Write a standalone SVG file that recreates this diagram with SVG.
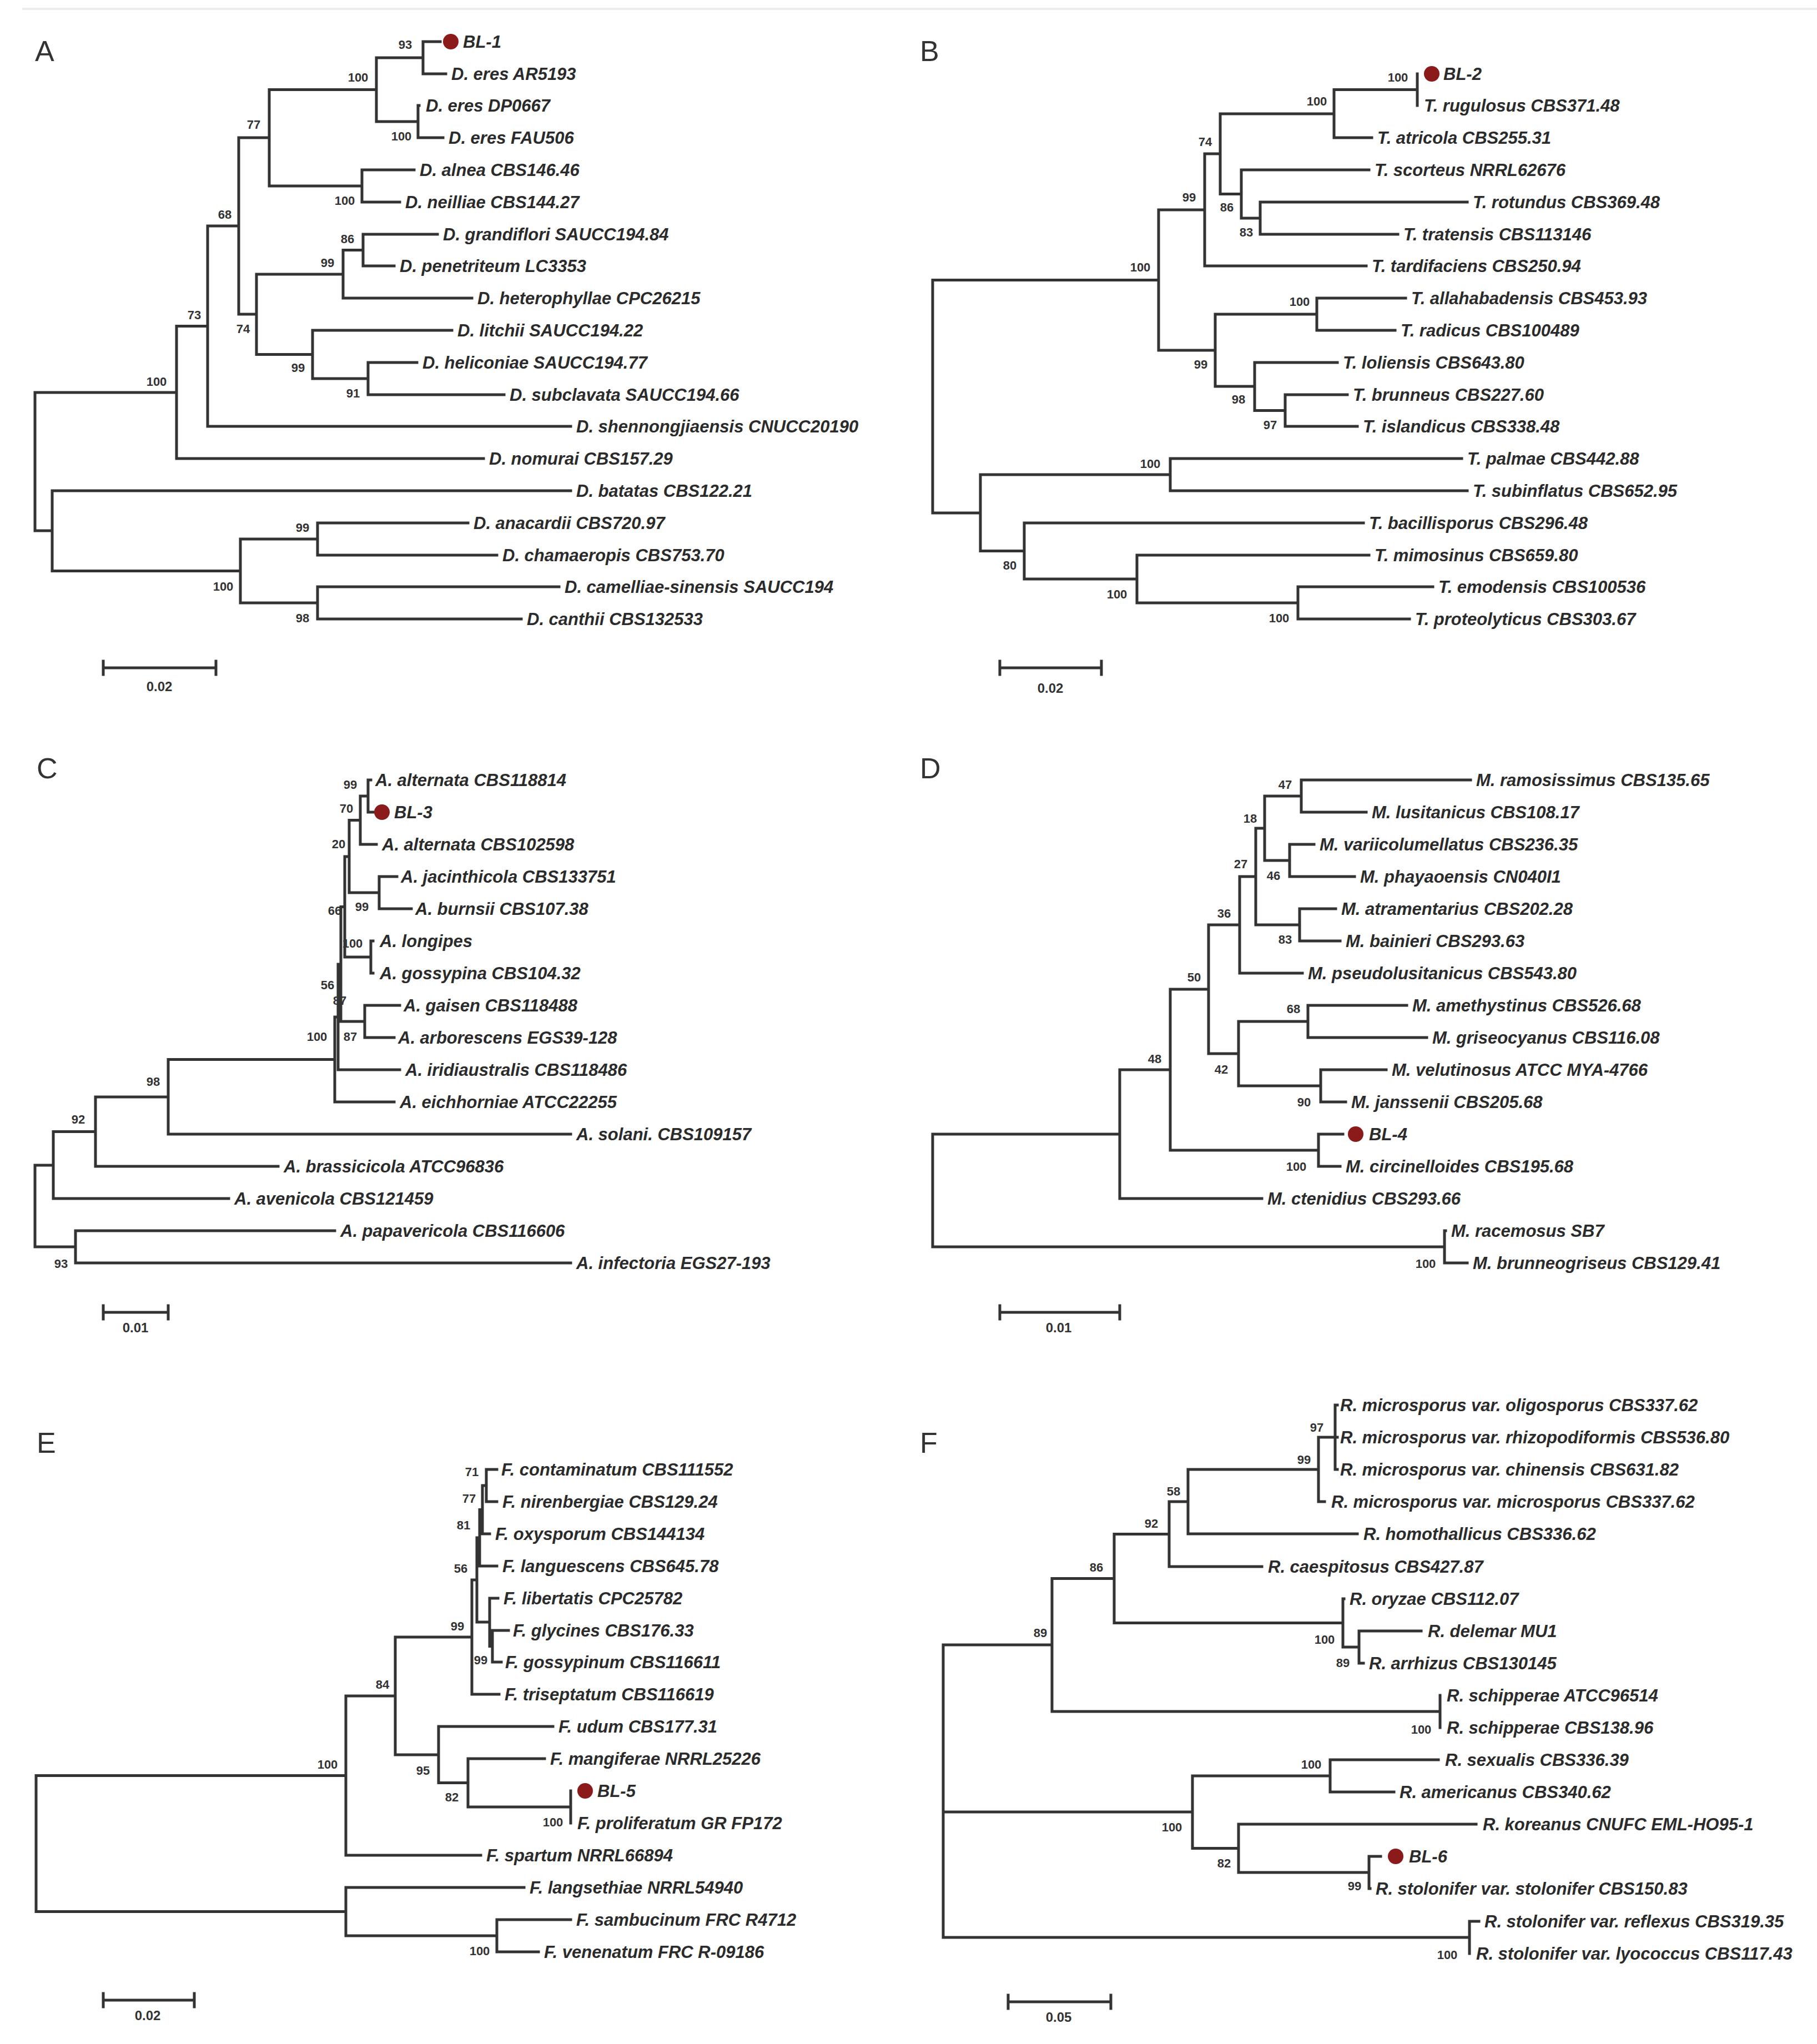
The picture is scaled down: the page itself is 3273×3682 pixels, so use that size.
<svg xmlns="http://www.w3.org/2000/svg" width="3273" height="3682" viewBox="0 0 3273 3682">
<style>
.br{fill:none;stroke:#333;stroke-width:5;stroke-linecap:square}
.lf{font-family:"Liberation Sans",Arial,sans-serif;font-style:italic;font-weight:bold;font-size:31px;fill:#2b2b2b}
.bs{font-family:"Liberation Sans",Arial,sans-serif;font-weight:bold;font-size:22px;fill:#333;text-anchor:middle}
.pl{font-family:"Liberation Sans",Arial,sans-serif;font-size:52px;fill:#333}
.sb{font-family:"Liberation Sans",Arial,sans-serif;font-weight:bold;font-size:24px;fill:#333;text-anchor:middle}
.dot{fill:#8b1a1a}
</style>
<rect width="3273" height="3682" fill="#fff"/>
<line x1="40" y1="16" x2="3273" y2="16" stroke="#ececec" stroke-width="4"/>

<g id="panel-labels">
<text class="pl" x="63" y="110">A</text>
<text class="pl" x="1657" y="110">B</text>
<text class="pl" x="66" y="1402">C</text>
<text class="pl" x="1657" y="1402">D</text>
<text class="pl" x="66" y="2617">E</text>
<text class="pl" x="1657" y="2617">F</text>
</g>

<g id="connectors">
<path id="A-branches" class="br" d="M63,707V956M63,707H318M63,956H94
M318,587.5V826M318,587.5H374M318,826H871
M374,407V768M374,407H430M374,768H1028
M430,248V566M430,248H485M430,566H462
M485,161.5V335M485,161.5H678M485,335H652
M678,104V219M678,104H762M678,219H753
M762,75V133M762,75H793M762,133H803
M753,190V248M753,190H755M753,248H798
M652,306V364M652,306H746M652,364H720
M462,494V638.5M462,494H618M462,638.5H563
M618,450.5V537M618,450.5H654M618,537H850
M654,422V479M654,422H788M654,479H710
M563,595V682M563,595H814M563,682H663
M663,653V711M663,653H751M663,711H908
M94,884V1028.5M94,884H1028M94,1028.5H433
M433,971V1086M433,971H572M433,1086H572
M572,942V1000M572,942H843M572,1000H895
M572,1057V1115M572,1057H1007M572,1115H939"/>
<path id="A-scale" class="br" d="M186,1191V1215M186,1203H389M389,1191V1215"/>

<path id="B-branches" class="br" d="M1680,504.5V924M1680,504.5H2087M1680,924H1766
M2087,378V631M2087,378H2170M2087,631H2189
M2170,277V479M2170,277H2198M2170,479H2461
M2198,205V349.5M2198,205H2403M2198,349.5H2236
M2403,161.5V248M2403,161.5H2553M2403,248H2471
M2553,133V190
M2236,306V393M2236,306H2466M2236,393H2270
M2270,364V422M2270,364H2643M2270,422H2518
M2189,566V696M2189,566H2372M2189,696H2260
M2372,537V595M2372,537H2532M2372,595H2513
M2260,653V739.5M2260,653H2409M2260,739.5H2315
M2315,711V768M2315,711H2427M2315,768H2445
M1766,855V992.5M1766,855H2108M1766,992.5H1845
M2108,826V884M2108,826H2633M2108,884H2643
M1845,942V1043M1845,942H2456M1845,1043H2048
M2048,1000V1086M2048,1000H2466M2048,1086H2338
M2338,1057V1115M2338,1057H2581M2338,1115H2539"/>
<path id="B-scale" class="br" d="M1801,1191V1215M1801,1203H1984M1984,1191V1215"/>

<path id="C-branches" class="br" d="M63,2099V2246M63,2099H96M63,2246H136
M96,2038.5V2159M96,2038.5H172M96,2159H412
M172,1976V2101M172,1976H303M172,2101H501
M303,1908.5V2043M303,1908.5H603M303,2043H1028
M603,1832V1985M603,1832H609M603,1985H710
M609,1737V1927M609,1737H614M609,1927H720
M614,1633.5V1840M614,1633.5H621M614,1840H657
M657,1811V1869M657,1811H720M657,1869H710
M621,1543V1724M621,1543H629M621,1724H668
M668,1695V1753M668,1695H672M668,1753H672
M629,1477.5V1608M629,1477.5H649M629,1608H683
M683,1579V1637M683,1579H715M683,1637H741
M649,1434V1521M649,1434H663M649,1521H678
M663,1405V1463M663,1405H668M663,1463H672
M136,2217V2275M136,2217H603M136,2275H1028"/>
<path id="C-scale" class="br" d="M186,2352V2376M186,2364H303M303,2352V2376"/>

<path id="D-branches" class="br" d="M1680,2043V2246M1680,2043H2017M1680,2246H2602
M2017,1927V2159M2017,1927H2108M2017,2159H2273
M2108,1782V2072M2108,1782H2177M2108,2072H2375
M2177,1666V1898M2177,1666H2233M2177,1898H2231
M2233,1579V1753M2233,1579H2262M2233,1753H2346
M2262,1492V1666M2262,1492H2278M2262,1666H2341
M2278,1434V1550M2278,1434H2344M2278,1550H2323
M2344,1405V1463M2344,1405H2649M2344,1463H2461
M2323,1521V1579M2323,1521H2367M2323,1579H2440
M2341,1637V1695M2341,1637H2406M2341,1695H2414
M2231,1840V1956M2231,1840H2356M2231,1956H2379
M2356,1811V1869M2356,1811H2534M2356,1869H2570
M2379,1927V1985M2379,1927H2497M2379,1985H2424
M2375,2043V2101M2375,2043H2419M2375,2101H2414
M2602,2217V2275M2602,2217H2604M2602,2275H2643"/>
<path id="D-scale" class="br" d="M1801,2352V2376M1801,2364H2017M2017,2352V2376"/>

<path id="E-branches" class="br" d="M65,3198.5V3443.5M65,3198.5H623M65,3443.5H623
M623,3055V3342M623,3055H712M623,3342H866
M712,2949V3161M712,2949H850M712,3161H790
M850,2846V3052M850,2846H859M850,3052H899
M859,2770V2922M859,2770H864M859,2922H882
M864,2719.5V2821M864,2719.5H869M864,2821H895
M869,2676V2763M869,2676H876M869,2763H882
M876,2647V2705M876,2647H895M876,2705H895
M882,2879V2965.5M882,2879H897M882,2965.5H887
M887,2937V2994M887,2937H916M887,2994H903
M790,3110V3211.5M790,3110H996M790,3211.5H843
M843,3168V3255M843,3168H981M843,3255H1028
M1028,3226V3284
M623,3400V3487M623,3400H944M623,3487H895
M895,3458V3516M895,3458H1028M895,3516H970"/>
<path id="E-scale" class="br" d="M186,3591V3615M186,3603H350M350,3591V3615"/>

<path id="F-branches" class="br" d="M1699,2963V3490M1699,2963H1895M1699,3264H2148M1699,3490H2647
M1895,2843.5V3083M1895,2843.5H2007M1895,3083H2594
M2007,2763.5V2923.5M2007,2763.5H2106M2007,2923.5H2419
M2106,2705V2822M2106,2705H2140M2106,2822H2273
M2140,2647V2763M2140,2647H2375M2140,2763H2445
M2375,2589V2705M2375,2589H2405M2375,2705H2386
M2405,2531V2647M2405,2531H2409M2405,2589H2409M2405,2647H2409
M2419,2880V2967M2419,2880H2421M2419,2967H2448
M2448,2938V2996M2448,2938H2560M2448,2996H2456
M2594,3054V3112
M2148,3199V3329.5M2148,3199H2396M2148,3329.5H2231
M2396,3170V3228M2396,3170H2591M2396,3228H2511
M2231,3286V3373M2231,3286H2659M2231,3373H2466
M2466,3344V3402M2466,3344H2487M2466,3402H2468
M2647,3461V3519M2647,3461H2664"/>
<path id="F-scale" class="br" d="M1816,3594V3618M1816,3606H2001M2001,3594V3618"/>
</g>

<g id="scale-labels">
<text class="sb" x="287" y="1245">0.02</text>
<text class="sb" x="1892" y="1248">0.02</text>
<text class="sb" x="244" y="2400">0.01</text>
<text class="sb" x="1907" y="2400">0.01</text>
<text class="sb" x="266" y="3639">0.02</text>
<text class="sb" x="1907" y="3642">0.05</text>
</g>

<g id="panelA">
<g id="A-BL-1"><circle class="dot" cx="812" cy="75" r="14"/><text class="lf" x="834" y="86">BL-1</text></g>
<g id="A-l2"><text class="lf" x="813" y="144">D. eres AR5193</text></g>
<g id="A-l3"><text class="lf" x="767" y="201">D. eres DP0667</text></g>
<g id="A-l4"><text class="lf" x="808" y="259">D. eres FAU506</text></g>
<g id="A-l5"><text class="lf" x="756" y="317">D. alnea CBS146.46</text></g>
<g id="A-l6"><text class="lf" x="730" y="375">D. neilliae CBS144.27</text></g>
<g id="A-l7"><text class="lf" x="798" y="433">D. grandiflori SAUCC194.84</text></g>
<g id="A-l8"><text class="lf" x="720" y="490">D. penetriteum LC3353</text></g>
<g id="A-l9"><text class="lf" x="860" y="548">D. heterophyllae CPC26215</text></g>
<g id="A-l10"><text class="lf" x="824" y="606">D. litchii SAUCC194.22</text></g>
<g id="A-l11"><text class="lf" x="761" y="664">D. heliconiae SAUCC194.77</text></g>
<g id="A-l12"><text class="lf" x="918" y="722">D. subclavata SAUCC194.66</text></g>
<g id="A-l13"><text class="lf" x="1038" y="779">D. shennongjiaensis CNUCC20190</text></g>
<g id="A-l14"><text class="lf" x="881" y="837">D. nomurai CBS157.29</text></g>
<g id="A-l15"><text class="lf" x="1038" y="895">D. batatas CBS122.21</text></g>
<g id="A-l16"><text class="lf" x="853" y="953">D. anacardii CBS720.97</text></g>
<g id="A-l17"><text class="lf" x="905" y="1011">D. chamaeropis CBS753.70</text></g>
<g id="A-l18"><text class="lf" x="1017" y="1068">D. camelliae-sinensis SAUCC194</text></g>
<g id="A-l19"><text class="lf" x="949" y="1126">D. canthii CBS132533</text></g>
<g id="A-support">
<text class="bs" x="730" y="88">93</text>
<text class="bs" x="645" y="147">100</text>
<text class="bs" x="723" y="253">100</text>
<text class="bs" x="457" y="232">77</text>
<text class="bs" x="621" y="369">100</text>
<text class="bs" x="405" y="394">68</text>
<text class="bs" x="626" y="438">86</text>
<text class="bs" x="590" y="481">99</text>
<text class="bs" x="350" y="575">73</text>
<text class="bs" x="438" y="600">74</text>
<text class="bs" x="537" y="670">99</text>
<text class="bs" x="636" y="716">91</text>
<text class="bs" x="282" y="695">100</text>
<text class="bs" x="545" y="958">99</text>
<text class="bs" x="402" y="1064">100</text>
<text class="bs" x="545" y="1121">98</text>
</g>
</g>

<g id="panelB">
<g id="B-BL-2"><circle class="dot" cx="2579" cy="133" r="14"/><text class="lf" x="2600" y="144">BL-2</text></g>
<g id="B-l2"><text class="lf" x="2565" y="201">T. rugulosus CBS371.48</text></g>
<g id="B-l3"><text class="lf" x="2481" y="259">T. atricola CBS255.31</text></g>
<g id="B-l4"><text class="lf" x="2476" y="317">T. scorteus NRRL62676</text></g>
<g id="B-l5"><text class="lf" x="2653" y="375">T. rotundus CBS369.48</text></g>
<g id="B-l6"><text class="lf" x="2528" y="433">T. tratensis CBS113146</text></g>
<g id="B-l7"><text class="lf" x="2471" y="490">T. tardifaciens CBS250.94</text></g>
<g id="B-l8"><text class="lf" x="2542" y="548">T. allahabadensis CBS453.93</text></g>
<g id="B-l9"><text class="lf" x="2523" y="606">T. radicus CBS100489</text></g>
<g id="B-l10"><text class="lf" x="2419" y="664">T. loliensis CBS643.80</text></g>
<g id="B-l11"><text class="lf" x="2437" y="722">T. brunneus CBS227.60</text></g>
<g id="B-l12"><text class="lf" x="2455" y="779">T. islandicus CBS338.48</text></g>
<g id="B-l13"><text class="lf" x="2643" y="837">T. palmae CBS442.88</text></g>
<g id="B-l14"><text class="lf" x="2653" y="895">T. subinflatus CBS652.95</text></g>
<g id="B-l15"><text class="lf" x="2466" y="953">T. bacillisporus CBS296.48</text></g>
<g id="B-l16"><text class="lf" x="2476" y="1011">T. mimosinus CBS659.80</text></g>
<g id="B-l17"><text class="lf" x="2591" y="1068">T. emodensis CBS100536</text></g>
<g id="B-l18"><text class="lf" x="2549" y="1126">T. proteolyticus CBS303.67</text></g>
<g id="B-support">
<text class="bs" x="2518" y="147">100</text>
<text class="bs" x="2372" y="190">100</text>
<text class="bs" x="2171" y="263">74</text>
<text class="bs" x="2142" y="363">99</text>
<text class="bs" x="2210" y="381">86</text>
<text class="bs" x="2245" y="426">83</text>
<text class="bs" x="2054" y="489">100</text>
<text class="bs" x="2341" y="551">100</text>
<text class="bs" x="2163" y="664">99</text>
<text class="bs" x="2231" y="727">98</text>
<text class="bs" x="2288" y="773">97</text>
<text class="bs" x="2072" y="843">100</text>
<text class="bs" x="1819" y="1026">80</text>
<text class="bs" x="2012" y="1078">100</text>
<text class="bs" x="2304" y="1121">100</text>
</g>
</g>

<g id="panelC">
<g id="C-l1"><text class="lf" x="676" y="1416">A. alternata CBS118814</text></g>
<g id="C-BL-3"><circle class="dot" cx="688" cy="1463" r="14"/><text class="lf" x="710" y="1474">BL-3</text></g>
<g id="C-l3"><text class="lf" x="688" y="1532">A. alternata CBS102598</text></g>
<g id="C-l4"><text class="lf" x="722" y="1590">A. jacinthicola CBS133751</text></g>
<g id="C-l5"><text class="lf" x="748" y="1648">A. burnsii CBS107.38</text></g>
<g id="C-l6"><text class="lf" x="684" y="1706">A. longipes</text></g>
<g id="C-l7"><text class="lf" x="684" y="1764">A. gossypina CBS104.32</text></g>
<g id="C-l8"><text class="lf" x="727" y="1822">A. gaisen CBS118488</text></g>
<g id="C-l9"><text class="lf" x="717" y="1880">A. arborescens EGS39-128</text></g>
<g id="C-l10"><text class="lf" x="730" y="1938">A. iridiaustralis CBS118486</text></g>
<g id="C-l11"><text class="lf" x="720" y="1996">A. eichhorniae ATCC22255</text></g>
<g id="C-l12"><text class="lf" x="1038" y="2054">A. solani. CBS109157</text></g>
<g id="C-l13"><text class="lf" x="511" y="2112">A. brassicicola ATCC96836</text></g>
<g id="C-l14"><text class="lf" x="422" y="2170">A. avenicola CBS121459</text></g>
<g id="C-l15"><text class="lf" x="613" y="2228">A. papavericola CBS116606</text></g>
<g id="C-l16"><text class="lf" x="1038" y="2286">A. infectoria EGS27-193</text></g>
<g id="C-support">
<text class="bs" x="631" y="1421">99</text>
<text class="bs" x="624" y="1464">70</text>
<text class="bs" x="610" y="1528">20</text>
<text class="bs" x="603" y="1648">66</text>
<text class="bs" x="652" y="1641">99</text>
<text class="bs" x="635" y="1707">100</text>
<text class="bs" x="590" y="1782">56</text>
<text class="bs" x="612" y="1810">87</text>
<text class="bs" x="571" y="1875">100</text>
<text class="bs" x="631" y="1875">87</text>
<text class="bs" x="276" y="1956">98</text>
<text class="bs" x="141" y="2024">92</text>
<text class="bs" x="110" y="2284">93</text>
</g>
</g>

<g id="panelD">
<g id="D-l1"><text class="lf" x="2659" y="1416">M. ramosissimus CBS135.65</text></g>
<g id="D-l2"><text class="lf" x="2471" y="1474">M. lusitanicus CBS108.17</text></g>
<g id="D-l3"><text class="lf" x="2377" y="1532">M. variicolumellatus CBS236.35</text></g>
<g id="D-l4"><text class="lf" x="2450" y="1590">M. phayaoensis CN040I1</text></g>
<g id="D-l5"><text class="lf" x="2416" y="1648">M. atramentarius CBS202.28</text></g>
<g id="D-l6"><text class="lf" x="2424" y="1706">M. bainieri CBS293.63</text></g>
<g id="D-l7"><text class="lf" x="2356" y="1764">M. pseudolusitanicus CBS543.80</text></g>
<g id="D-l8"><text class="lf" x="2544" y="1822">M. amethystinus CBS526.68</text></g>
<g id="D-l9"><text class="lf" x="2580" y="1880">M. griseocyanus CBS116.08</text></g>
<g id="D-l10"><text class="lf" x="2507" y="1938">M. velutinosus ATCC MYA-4766</text></g>
<g id="D-l11"><text class="lf" x="2434" y="1996">M. janssenii CBS205.68</text></g>
<g id="D-BL-4"><circle class="dot" cx="2442" cy="2043" r="14"/><text class="lf" x="2466" y="2054">BL-4</text></g>
<g id="D-l13"><text class="lf" x="2424" y="2112">M. circinelloides CBS195.68</text></g>
<g id="D-l14"><text class="lf" x="2283" y="2170">M. ctenidius CBS293.66</text></g>
<g id="D-l15"><text class="lf" x="2614" y="2228">M. racemosus SB7</text></g>
<g id="D-l16"><text class="lf" x="2653" y="2286">M. brunneogriseus CBS129.41</text></g>
<g id="D-support">
<text class="bs" x="2315" y="1421">47</text>
<text class="bs" x="2252" y="1482">18</text>
<text class="bs" x="2294" y="1585">46</text>
<text class="bs" x="2235" y="1564">27</text>
<text class="bs" x="2315" y="1700">83</text>
<text class="bs" x="2205" y="1653">36</text>
<text class="bs" x="2151" y="1768">50</text>
<text class="bs" x="2330" y="1825">68</text>
<text class="bs" x="2200" y="1934">42</text>
<text class="bs" x="2349" y="1993">90</text>
<text class="bs" x="2080" y="1915">48</text>
<text class="bs" x="2335" y="2109">100</text>
<text class="bs" x="2568" y="2284">100</text>
</g>
</g>

<g id="panelE">
<g id="E-l1"><text class="lf" x="903" y="2658">F. contaminatum CBS111552</text></g>
<g id="E-l2"><text class="lf" x="905" y="2716">F. nirenbergiae CBS129.24</text></g>
<g id="E-l3"><text class="lf" x="892" y="2774">F. oxysporum CBS144134</text></g>
<g id="E-l4"><text class="lf" x="905" y="2832">F. languescens CBS645.78</text></g>
<g id="E-l5"><text class="lf" x="907" y="2890">F. libertatis CPC25782</text></g>
<g id="E-l6"><text class="lf" x="924" y="2948">F. glycines CBS176.33</text></g>
<g id="E-l7"><text class="lf" x="910" y="3005">F. gossypinum CBS116611</text></g>
<g id="E-l8"><text class="lf" x="909" y="3063">F. triseptatum CBS116619</text></g>
<g id="E-l9"><text class="lf" x="1006" y="3121">F. udum CBS177.31</text></g>
<g id="E-l10"><text class="lf" x="991" y="3179">F. mangiferae NRRL25226</text></g>
<g id="E-BL-5"><circle class="dot" cx="1054" cy="3226" r="14"/><text class="lf" x="1076" y="3237">BL-5</text></g>
<g id="E-l12"><text class="lf" x="1040" y="3295">F. proliferatum GR FP172</text></g>
<g id="E-l13"><text class="lf" x="876" y="3353">F. spartum NRRL66894</text></g>
<g id="E-l14"><text class="lf" x="954" y="3411">F. langsethiae NRRL54940</text></g>
<g id="E-l15"><text class="lf" x="1038" y="3469">F. sambucinum FRC R4712</text></g>
<g id="E-l16"><text class="lf" x="980" y="3527">F. venenatum FRC R-09186</text></g>
<g id="E-support">
<text class="bs" x="850" y="2659">71</text>
<text class="bs" x="845" y="2707">77</text>
<text class="bs" x="835" y="2755">81</text>
<text class="bs" x="830" y="2833">56</text>
<text class="bs" x="824" y="2937">99</text>
<text class="bs" x="866" y="2998">99</text>
<text class="bs" x="689" y="3042">84</text>
<text class="bs" x="590" y="3186">100</text>
<text class="bs" x="762" y="3197">95</text>
<text class="bs" x="814" y="3245">82</text>
<text class="bs" x="996" y="3290">100</text>
<text class="bs" x="864" y="3522">100</text>
</g>
</g>

<g id="panelF">
<g id="F-l1"><text class="lf" x="2414" y="2542">R. microsporus var. oligosporus CBS337.62</text></g>
<g id="F-l2"><text class="lf" x="2414" y="2600">R. microsporus var. rhizopodiformis CBS536.80</text></g>
<g id="F-l3"><text class="lf" x="2414" y="2658">R. microsporus var. chinensis CBS631.82</text></g>
<g id="F-l4"><text class="lf" x="2398" y="2716">R. microsporus var. microsporus CBS337.62</text></g>
<g id="F-l5"><text class="lf" x="2456" y="2774">R. homothallicus CBS336.62</text></g>
<g id="F-l6"><text class="lf" x="2284" y="2833">R. caespitosus CBS427.87</text></g>
<g id="F-l7"><text class="lf" x="2431" y="2891">R. oryzae CBS112.07</text></g>
<g id="F-l8"><text class="lf" x="2572" y="2949">R. delemar MU1</text></g>
<g id="F-l9"><text class="lf" x="2466" y="3007">R. arrhizus CBS130145</text></g>
<g id="F-l10"><text class="lf" x="2606" y="3065">R. schipperae ATCC96514</text></g>
<g id="F-l11"><text class="lf" x="2606" y="3123">R. schipperae CBS138.96</text></g>
<g id="F-l12"><text class="lf" x="2603" y="3181">R. sexualis CBS336.39</text></g>
<g id="F-l13"><text class="lf" x="2521" y="3239">R. americanus CBS340.62</text></g>
<g id="F-l14"><text class="lf" x="2671" y="3297">R. koreanus CNUFC EML-HO95-1</text></g>
<g id="F-BL-6"><circle class="dot" cx="2514" cy="3344" r="14"/><text class="lf" x="2538" y="3355">BL-6</text></g>
<g id="F-l16"><text class="lf" x="2478" y="3413">R. stolonifer var. stolonifer CBS150.83</text></g>
<g id="F-l17"><text class="lf" x="2674" y="3472">R. stolonifer var. reflexus CBS319.35</text></g>
<g id="F-l18"><text class="lf" x="2659" y="3530">R. stolonifer var. lyococcus CBS117.43</text></g>
<g id="F-support">
<text class="bs" x="2372" y="2579">97</text>
<text class="bs" x="2349" y="2637">99</text>
<text class="bs" x="2114" y="2694">58</text>
<text class="bs" x="2074" y="2752">92</text>
<text class="bs" x="1975" y="2831">86</text>
<text class="bs" x="1874" y="2949">89</text>
<text class="bs" x="2386" y="2961">100</text>
<text class="bs" x="2419" y="3003">89</text>
<text class="bs" x="2560" y="3123">100</text>
<text class="bs" x="2362" y="3186">100</text>
<text class="bs" x="2111" y="3299">100</text>
<text class="bs" x="2205" y="3364">82</text>
<text class="bs" x="2440" y="3405">99</text>
<text class="bs" x="2607" y="3529">100</text>
</g>
</g>
</svg>
